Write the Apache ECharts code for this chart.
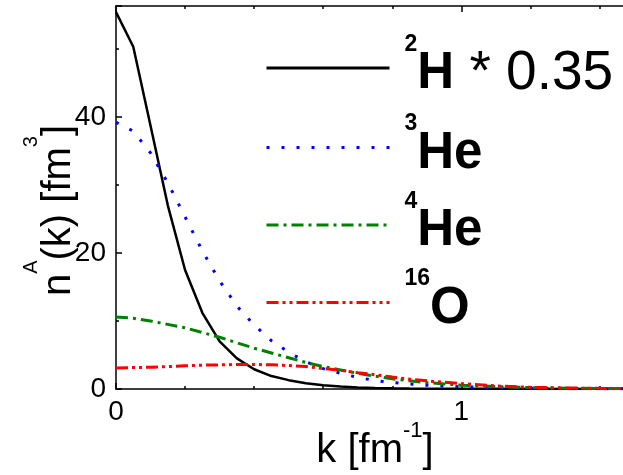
<!DOCTYPE html>
<html>
<head>
<meta charset="utf-8">
<script src="https://cdn.jsdelivr.net/npm/echarts@6/dist/echarts.min.js"></script>
<style>
    html, body { margin: 0; padding: 0; background: #fff; }
    #chart { width: 623px; height: 475px; }
</style>
</head>
<body>
<div id="chart"></div>
<script>
// k grid [fm^-1]
const kValues = [0, 0.05, 0.1, 0.15, 0.2, 0.25, 0.3, 0.35, 0.4, 0.45, 0.5, 0.55, 0.6, 0.65, 0.7, 0.75, 0.8, 0.85, 0.9, 0.95, 1.0, 1.1, 1.2, 1.3, 1.4, 1.5]

// n^A(k) [fm^3]
const h2Scaled = [55.4, 50.3, 38.7, 27.0, 17.5, 11.2, 7.0, 4.5, 2.9, 1.9, 1.3, 0.85, 0.55, 0.35, 0.22, 0.15, 0.1, 0.07, 0.05, 0.04, 0.03, 0.02, 0.02, 0.01, 0.01, 0.01]
const he3 = [39.2, 37.9, 34.7, 30.3, 25.3, 20.3, 15.9, 12.2, 9.4, 7.1, 5.4, 4.0, 3.0, 2.3, 1.7, 1.25, 0.95, 0.75, 0.55, 0.42, 0.32, 0.2, 0.12, 0.08, 0.05, 0.03]
const he4 = [10.6, 10.4, 10.0, 9.5, 9.0, 8.3, 7.6, 6.8, 6.0, 5.3, 4.6, 3.9, 3.3, 2.8, 2.3, 1.9, 1.5, 1.2, 0.95, 0.75, 0.55, 0.35, 0.2, 0.12, 0.08, 0.05]
const o16 = [3.1, 3.15, 3.2, 3.3, 3.4, 3.5, 3.55, 3.6, 3.6, 3.55, 3.45, 3.3, 3.0, 2.75, 2.4, 2.1, 1.75, 1.45, 1.2, 1.0, 0.8, 0.45, 0.25, 0.15, 0.1, 0.06]

// legend labels: mass number, element, suffix
const seriesNames = ['2H * 0.35', '3He', '4He', '16O']
const massNumbers = ['2', '3', '4', '16']
const elements = ['H', 'He', 'He', 'O']
const suffixes = [' * 0.35', '', '', '']

const fontFamily = 'Liberation Sans, Arial, sans-serif'

function pairs(ys) {
    return kValues.map((k, i) => [k, ys[i]])
}

const chart = echarts.init(document.getElementById('chart'))

const baseAxis = {
    type: 'value',
    axisLine: { show: true, lineStyle: { color: '#000', width: 1.5 } },
    axisTick: { show: true, inside: true, length: 6, lineStyle: { color: '#000', width: 1.5 } },
    minorTick: { show: true, length: 3, lineStyle: { color: '#000', width: 1.5 } },
    splitLine: { show: false }
}

const option = {
    animation: false,
    backgroundColor: '#fff',
    textStyle: { fontFamily: fontFamily },
    grid: {
        left: 116,
        top: 6,
        width: 518,
        height: 383,
        outerBoundsMode: 'none',
        containLabel: false
    },
    legend: {
        orient: 'vertical',
        left: 260,
        top: 28,
        itemWidth: 123,
        itemHeight: 14,
        itemGap: 11,
        selectedMode: false,
        data: seriesNames,
        itemStyle: { opacity: 0 },
        lineStyle: { width: 3 },
        formatter: function (name) {
            const i = seriesNames.indexOf(name)
            let s = '{sup|' + massNumbers[i] + '}{b|' + elements[i] + '}'
            if (suffixes[i]) s += '{n|' + suffixes[i] + '}'
            return s
        },
        textStyle: {
            padding: [12, 0, 0, 10],
            rich: {
                sup: { fontSize: 23, fontWeight: 'bold', color: '#000', fontFamily: fontFamily, lineHeight: 23, verticalAlign: 'top' },
                b: { fontSize: 51, fontWeight: 'bold', color: '#000', fontFamily: fontFamily, lineHeight: 82 },
                n: { fontSize: 55, color: '#000', fontFamily: fontFamily, lineHeight: 82 }
            }
        }
    },
    xAxis: [
        Object.assign({}, baseAxis, {
            min: 0,
            max: 1.5,
            interval: 1,
            minorTick: Object.assign({}, baseAxis.minorTick, { splitNumber: 5 }),
            axisLabel: { color: '#000', fontSize: 28, margin: 9, showMaxLabel: false, fontFamily: fontFamily },
            name: '{b|k [fm}{sup|-1}{b|]}',
            nameLocation: 'middle',
            nameGap: 31,
            nameMoveOverlap: false,
            nameTextStyle: {
                rich: {
                    b: { fontSize: 40, color: '#000', fontFamily: fontFamily, lineHeight: 61 },
                    sup: { fontSize: 22, color: '#000', fontFamily: fontFamily, lineHeight: 22, verticalAlign: 'top' }
                }
            }
        }),
        Object.assign({}, baseAxis, {
            position: 'top',
            min: 0,
            max: 1.5,
            interval: 1,
            minorTick: Object.assign({}, baseAxis.minorTick, { splitNumber: 5 }),
            axisLabel: { show: false }
        })
    ],
    yAxis: [
        Object.assign({}, baseAxis, {
            min: 0,
            max: 56.3,
            interval: 20,
            minorTick: Object.assign({}, baseAxis.minorTick, { splitNumber: 2 }),
            axisLabel: { color: '#000', fontSize: 28, margin: 10, showMaxLabel: false, fontFamily: fontFamily },
            name: '{b|n}{sup|A}{b|(k) [fm}{sup|3}{b|]}',
            nameLocation: 'middle',
            nameGap: 20,
            nameMoveOverlap: false,
            nameTextStyle: {
                padding: [0, 26, 0, 0],
                rich: {
                    b: { fontSize: 40, color: '#000', fontFamily: fontFamily, lineHeight: 75 },
                    sup: { fontSize: 20, color: '#000', fontFamily: fontFamily, lineHeight: 20, verticalAlign: 'top' }
                }
            }
        })
    ],
    series: [
        {
            name: seriesNames[0],
            type: 'line',
            symbol: 'none',
            data: pairs(h2Scaled),
            lineStyle: { color: '#000', width: 2.5, type: 'solid' },
            itemStyle: { color: '#000' }
        },
        {
            name: seriesNames[1],
            type: 'line',
            symbol: 'none',
            data: pairs(he3),
            lineStyle: { color: '#0000ff', width: 3, type: [3, 12] },
            itemStyle: { color: '#0000ff' }
        },
        {
            name: seriesNames[2],
            type: 'line',
            symbol: 'none',
            data: pairs(he4),
            lineStyle: { color: '#008000', width: 3, type: [12, 5, 3, 5] },
            itemStyle: { color: '#008000' }
        },
        {
            name: seriesNames[3],
            type: 'line',
            symbol: 'none',
            data: pairs(o16),
            lineStyle: { color: '#ff0000', width: 3, type: [12, 4, 3, 4, 3, 4] },
            itemStyle: { color: '#ff0000' }
        }
    ]
}

chart.setOption(option)
window.addEventListener('resize', () => chart.resize())
</script>
</body>
</html>
